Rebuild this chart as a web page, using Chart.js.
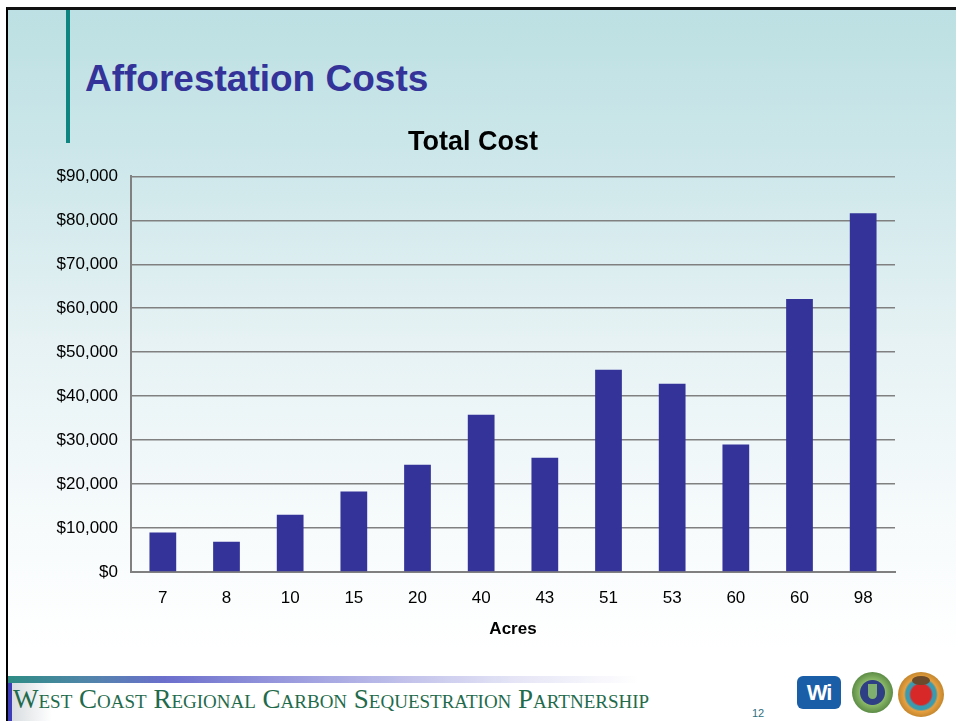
<!DOCTYPE html>
<html>
<head>
<meta charset="utf-8">
<script src="https://cdn.jsdelivr.net/npm/chart.js@4.4.0/dist/chart.umd.min.js"></script>
<style>
  html, body { margin: 0; padding: 0; }
  body { width: 956px; height: 721px; position: relative; overflow: hidden; background: #fff; font-family: "Liberation Sans", Arial, sans-serif; }
  #slide { position: absolute; left: 6px; top: 7px; width: 950px; height: 714px;
    border-left: 2px solid #000; border-top: 3px solid #111;
    background: linear-gradient(to bottom, #bce0e3 0px, #cde7ea 150px, #e6f2f4 330px, #f7fbfc 520px, #ffffff 640px, #ffffff 714px); }
  #vbar { position: absolute; left: 66px; top: 10px; width: 4px; height: 133px; background: #0e8580; }
  #mainTitle { position: absolute; left: 85px; top: 58px; font: bold 37px "Liberation Sans", Arial, sans-serif; color: #333399; white-space: nowrap; }
  #chartBox { position: absolute; left: 30px; top: 120px; width: 886px; height: 520px; }
  #fbar { position: absolute; left: 8px; top: 676px; width: 630px; height: 7px;
    background: linear-gradient(to right, #2e8c84 0%, #4f86a8 12%, #6c6fcc 25%, #a6a6e2 50%, #e4e4f6 80%, #ffffff 100%); }
  #fstrip { position: absolute; left: 8px; top: 683px; width: 4px; height: 38px; background: #3d3dba; }
  #fshade { position: absolute; left: 12px; top: 683px; width: 40px; height: 38px; background: linear-gradient(to right, #d9dde0, #ffffff); }
  #footer { position: absolute; left: 13px; top: 684px; font: 27px "Liberation Serif", "Times New Roman", serif; font-variant: small-caps; color: #1f6b4c; white-space: nowrap; letter-spacing: 0px; }
  #pnum { position: absolute; left: 752px; top: 707px; font: 11px "Liberation Sans", Arial, sans-serif; color: #2f6f80; }
  #wi { position: absolute; left: 797px; top: 676px; width: 44px; height: 33px; border-radius: 6px; background: #1a5ea8; color: #fff; font: bold 22px "Liberation Sans", Arial, sans-serif; text-align: center; line-height: 33px; letter-spacing: -1px; }
  #doe { position: absolute; left: 852px; top: 672px; width: 41px; height: 41px; border-radius: 50%; background: radial-gradient(circle, #2f3f86 0px, #2f3f86 12px, #8ab868 13px, #5f8f48 20px); }
  #doe2 { position: absolute; left: 868px; top: 684px; width: 9px; height: 15px; background: #7fb070; border-radius: 0 0 5px 5px; }
  #seal { position: absolute; left: 898px; top: 672px; width: 46px; height: 45px; border-radius: 50%; background: radial-gradient(circle, #d82828 0px, #d82828 10px, #3a9ab0 12px, #3a9ab0 15px, #e8a040 17px, #c88a30 22px); }
  #seal2 { position: absolute; left: 912px; top: 676px; width: 18px; height: 9px; border-radius: 50%; background: #6a4a2a; }
</style>
</head>
<body>
<div id="slide"></div>
<div id="vbar"></div>
<div id="mainTitle">Afforestation Costs</div>
<div id="chartBox"><canvas id="c"></canvas></div>
<div id="fbar"></div>
<div id="fshade"></div>
<div id="fstrip"></div>
<div id="footer">West Coast Regional Carbon Sequestration Partnership</div>
<div id="pnum">12</div>
<div id="wi">Wi</div>
<div id="doe"></div>
<div id="doe2"></div>
<div id="seal"></div>
<div id="seal2"></div>
<script>
const acres = ["7", "8", "10", "15", "20", "40", "43", "51", "53", "60", "60", "98"];
const totalCost = [9000, 6900, 13000, 18300, 24400, 35800, 26000, 46000, 42800, 29000, 62100, 81600];
const yMin = 0;
const yMax = 90000;
const yStep = 10000;
const chartTitle = "Total Cost";
const xTitle = "Acres";

const FONT = '"Liberation Sans", Arial, sans-serif';

new Chart(document.getElementById('c'), {
  type: 'bar',
  data: {
    labels: acres,
    datasets: [{
      label: chartTitle,
      data: totalCost,
      backgroundColor: '#333399',
      borderWidth: 0,
      categoryPercentage: 1.0,
      barPercentage: 0.42
    }]
  },
  options: {
    responsive: true,
    maintainAspectRatio: false,
    animation: false,
    devicePixelRatio: 1,
    layout: { padding: { top: 0, right: 21, bottom: 0, left: 21 } },
    plugins: {
      legend: { display: false },
      tooltip: { enabled: false },
      title: {
        display: true,
        text: chartTitle,
        color: '#000',
        font: { family: FONT, size: 27, weight: 'bold', lineHeight: 1.2 },
        padding: { top: 6, bottom: 18 }
      }
    },
    scales: {
      x: {
        afterFit: (s) => { s.height = 68; },
        grid: { display: false, drawTicks: false },
        border: { display: true, color: '#808080', width: 2 },
        ticks: { color: '#000', font: { family: FONT, size: 17 }, padding: 16, maxRotation: 0 },
        title: { display: true, text: xTitle, color: '#000', font: { family: FONT, size: 17, weight: 'bold', lineHeight: 1.2 }, padding: { top: 10, bottom: 0 } }
      },
      y: {
        min: yMin,
        max: yMax,
        afterFit: (s) => { s.width = 80; },
        grid: { color: '#808080', lineWidth: 1.6, drawTicks: false },
        border: { display: true, color: '#808080', width: 2 },
        ticks: {
          stepSize: yStep,
          color: '#000',
          padding: 13,
          font: { family: FONT, size: 17 },
          callback: (v) => '$' + v.toLocaleString('en-US')
        }
      }
    }
  }
});
</script>
</body>
</html>
